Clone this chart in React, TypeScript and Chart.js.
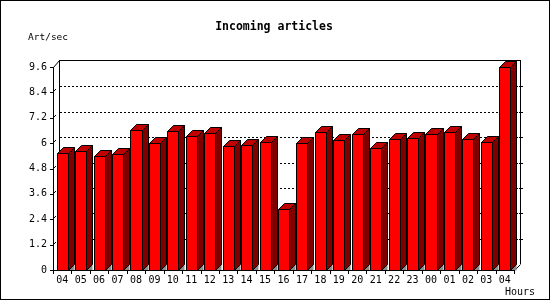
import React, { useEffect, useRef } from "react";
import { Chart, registerables } from "chart.js";

Chart.register(...registerables);

const categories = ["04", "05", "06", "07", "08", "09", "10", "11", "12", "13", "14", "15", "16", "17", "18", "19", "20", "21", "22", "23", "00", "01", "02", "03", "04"];
const articlesPerSec = [5.52, 5.61, 5.38, 5.47, 6.61, 5.99, 6.56, 6.32, 6.46, 5.85, 5.9, 6.04, 2.87, 5.99, 6.51, 6.13, 6.42, 5.76, 6.18, 6.23, 6.42, 6.51, 6.18, 6.04, 9.58];
const yTickValues = [0, 1.2, 2.4, 3.6, 4.8, 6, 7.2, 8.4, 9.6];
const yTickLabels = ["0", "1.2", "2.4", "3.6", "4.8", "6", "7.2", "8.4", "9.6"];
const titleText = "Incoming articles";
const yAxisTitle = "Art/sec";
const xAxisTitle = "Hours";

const DEPTH = 6;
const FRONT = "#ff0000";
const TOP = "#c00000";
const SIDE = "#800000";
const SHADOW = "#8c8c8c";
const MONO = '"DejaVu Sans Mono", "Liberation Mono", monospace';

function line(ctx: CanvasRenderingContext2D, x1: number, y1: number, x2: number, y2: number) {
  ctx.beginPath();
  ctx.moveTo(x1, y1);
  ctx.lineTo(x2, y2);
  ctx.stroke();
}

function poly(ctx: CanvasRenderingContext2D, pts: number[][], fill: string, stroke: boolean) {
  ctx.beginPath();
  ctx.moveTo(pts[0][0], pts[0][1]);
  for (let i = 1; i < pts.length; i++) ctx.lineTo(pts[i][0], pts[i][1]);
  ctx.closePath();
  ctx.fillStyle = fill;
  ctx.fill();
  if (stroke) ctx.stroke();
}

const box3d = {
  id: "box3d",
  beforeDraw(chart: any) {
    const { ctx, width, height } = chart;
    ctx.save();
    ctx.fillStyle = "#ffffff";
    ctx.fillRect(0, 0, width, height);
    ctx.restore();
  },
  beforeDatasetsDraw(chart: any) {
    const { ctx, chartArea: a, scales } = chart;
    const ys = scales.y;
    const L = Math.round(a.left);
    const R = Math.round(a.right);
    const T = Math.round(a.top);
    const B = Math.round(a.bottom);
    const D = DEPTH;
    ctx.save();
    ctx.strokeStyle = "#000";
    ctx.lineWidth = 1;
    // dotted grid on back wall
    ctx.setLineDash([2, 2]);
    for (let i = 1; i < yTickValues.length - 1; i++) {
      const py = Math.round(ys.getPixelForValue(yTickValues[i]));
      line(ctx, L + D + 1, py - D + 0.5, R + D, py - D + 0.5);
    }
    ctx.setLineDash([]);
    // short marks on the left wall
    for (let i = 1; i < yTickValues.length - 1; i++) {
      const py = Math.round(ys.getPixelForValue(yTickValues[i]));
      line(ctx, L + 1, py - 1, L + 3, py - 3);
    }
    // back wall frame
    line(ctx, L + D + 0.5, T - D - 1, L + D + 0.5, B - D);
    line(ctx, L + D, T - D - 0.5, R + D + 1, T - D - 0.5);
    line(ctx, R + D + 0.5, T - D - 1, R + D + 0.5, B - D);
    // right side ticks
    for (let i = 1; i < yTickValues.length - 1; i++) {
      const py = Math.round(ys.getPixelForValue(yTickValues[i])) - D + 0.5;
      line(ctx, R + D - 1, py, R + D + 3, py);
    }
    // top-left diagonal
    line(ctx, L + 0.5, T + 0.5, L + D + 0.5, T - D - 0.5);
    // bottom-right diagonal
    line(ctx, R + 0.5, B + 0.5, R + D + 0.5, B - D + 0.5);
    ctx.restore();
  },
  afterDatasetsDraw(chart: any) {
    const { ctx, chartArea: a, scales } = chart;
    const ys = scales.y;
    const L = Math.round(a.left);
    const R = Math.round(a.right);
    const T = Math.round(a.top);
    const B = Math.round(a.bottom);
    const D = DEPTH;
    ctx.save();
    ctx.strokeStyle = "#000";
    ctx.lineWidth = 1;
    const meta = chart.getDatasetMeta(0);
    meta.data.forEach((el: any) => {
      const p = el.getProps(["x", "y", "base", "width"], true);
      const x0 = Math.round(p.x - p.width / 2) + 0.5;
      const x1 = Math.round(p.x + p.width / 2) + 0.5;
      const yt = Math.round(p.y) + 0.5;
      const yb = Math.round(p.base) + 0.5;
      // floor shadow
      poly(ctx, [[x1, yb], [x1 + D, yb - D], [x1 + D, yb]], SHADOW, false);
      // side
      poly(ctx, [[x1, yt], [x1 + D, yt - D], [x1 + D, yb - D], [x1, yb]], SIDE, true);
      // top
      poly(ctx, [[x0, yt], [x0 + D, yt - D], [x1 + D, yt - D], [x1, yt]], TOP, true);
      // front
      poly(ctx, [[x0, yt], [x1, yt], [x1, yb], [x0, yb]], FRONT, true);
    });
    // front axes
    line(ctx, L + 0.5, T, L + 0.5, B + 4);
    line(ctx, L, B + 0.5, R + 1, B + 0.5);
    for (const v of yTickValues) {
      const py = Math.round(ys.getPixelForValue(v)) + 0.5;
      line(ctx, L - 3, py, L + 1, py);
    }
    const n = categories.length;
    for (let i = 0; i <= n; i++) {
      const px = Math.round(L + (i * (R - L)) / n) + 0.5;
      line(ctx, px, B, px, B + 4);
    }
    ctx.restore();
  },
  afterDraw(chart: any) {
    const { ctx, width, height } = chart;
    ctx.save();
    ctx.fillStyle = "#000";
    ctx.textBaseline = "middle";
    ctx.font = `bold 11.5px ${MONO}`;
    ctx.textAlign = "center";
    ctx.fillText(titleText, 274, 27);
    ctx.font = `9.5px ${MONO}`;
    ctx.textAlign = "left";
    ctx.fillText(yAxisTitle, 28, 38);
    ctx.font = `10px ${MONO}`;
    ctx.textAlign = "right";
    ctx.fillText(xAxisTitle, 535, 292);
    ctx.strokeStyle = "#000";
    ctx.lineWidth = 1;
    ctx.strokeRect(0.5, 0.5, width - 1, height - 1);
    ctx.restore();
  },
};

export default function App() {
  const ref = useRef<HTMLCanvasElement>(null);
  useEffect(() => {
    if (!ref.current) return;
    const chart = new Chart(ref.current, {
      type: "bar",
      data: {
        labels: categories,
        datasets: [
          {
            data: articlesPerSec,
            backgroundColor: "rgba(0,0,0,0)",
            borderWidth: 0,
            barPercentage: 0.6,
            categoryPercentage: 1,
          },
        ],
      },
      options: {
        responsive: false,
        animation: false,
        devicePixelRatio: 1,
        layout: { padding: { top: 67, right: 36, left: 0, bottom: 0 } },
        plugins: {
          legend: { display: false },
          title: { display: false },
          tooltip: { enabled: false },
        },
        scales: {
          x: {
            grid: { display: false, drawTicks: false },
            border: { display: false },
            ticks: {
              font: { family: MONO, size: 10 },
              color: "#000",
              padding: 4,
              maxRotation: 0,
              autoSkip: false,
            },
            afterFit: (s: any) => {
              s.height = 30;
            },
          },
          y: {
            min: 0,
            max: 9.6,
            grid: { display: false, drawTicks: false },
            border: { display: false },
            afterBuildTicks: (s: any) => {
              s.ticks = yTickValues.map((v) => ({ value: v }));
            },
            ticks: {
              font: { family: MONO, size: 10 },
              color: "#000",
              padding: 6,
              callback: (_v: any, i: number) => yTickLabels[i],
            },
            afterFit: (s: any) => {
              s.width = 53;
            },
          },
        },
      },
      plugins: [box3d],
    } as any);
    return () => chart.destroy();
  }, []);
  return (
    <div style={{ position: "fixed", left: 0, top: 0, width: 550, height: 300 }}>
      <canvas ref={ref} width={550} height={300} />
    </div>
  );
}
